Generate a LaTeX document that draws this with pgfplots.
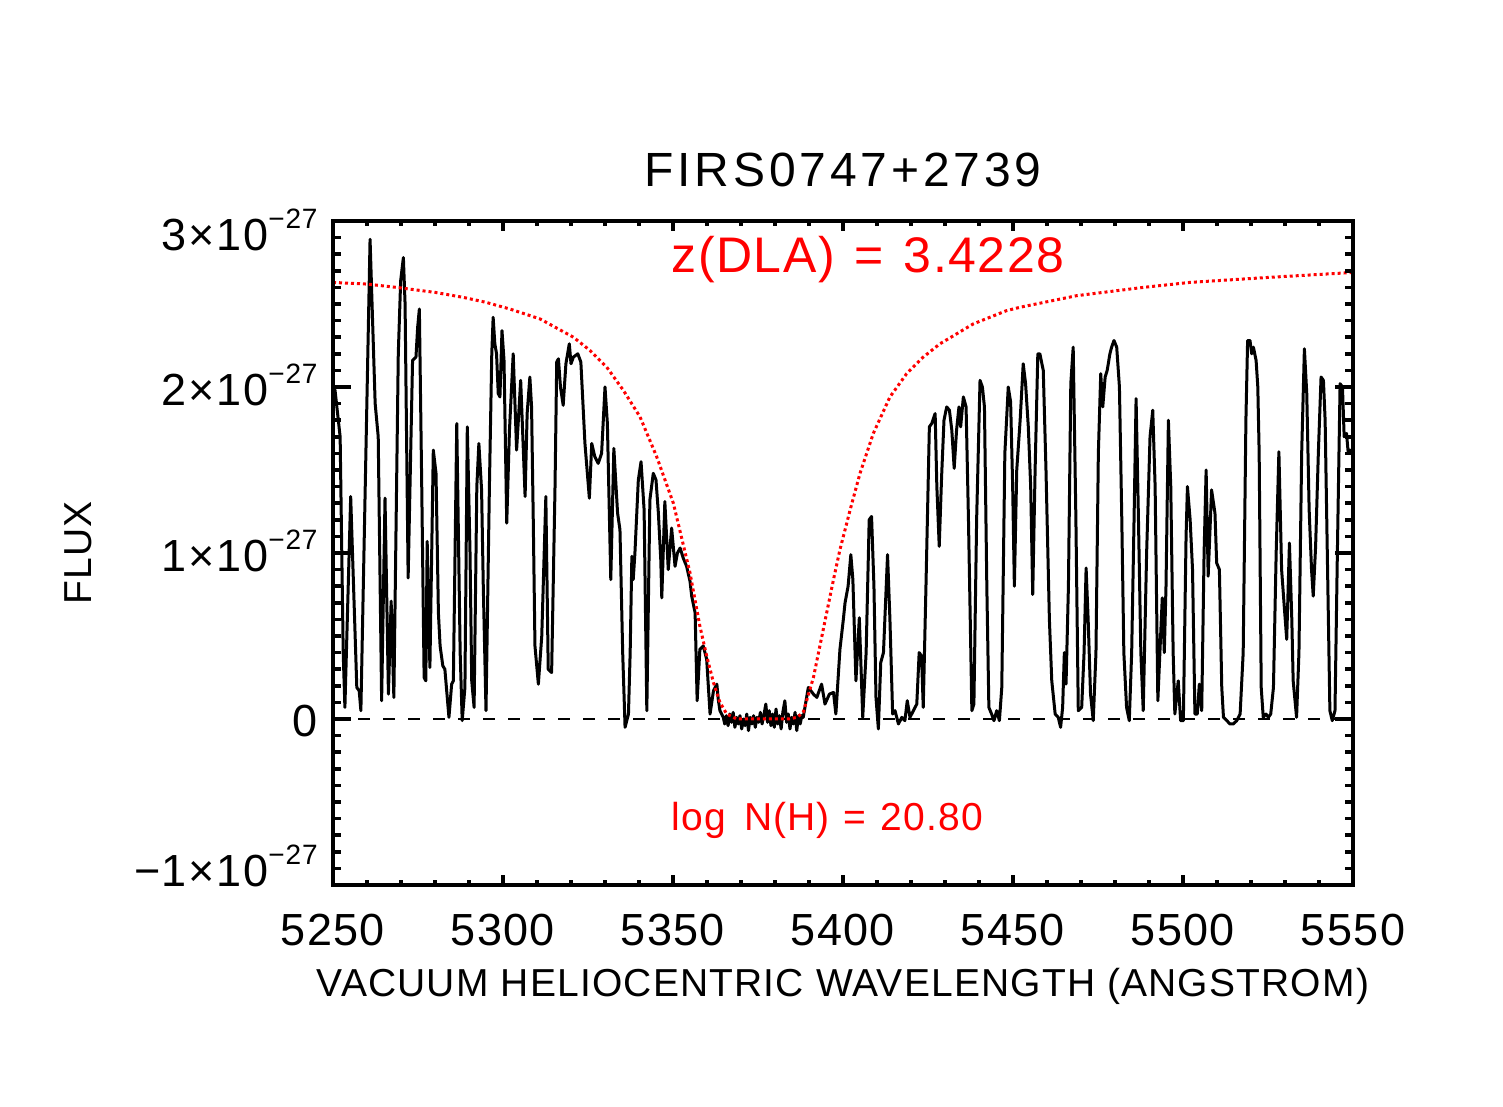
\documentclass[border=0pt]{standalone}
\usepackage{fontspec}
\setmainfont{Liberation Sans}
\newfontfamily\titlefam[LetterSpace=8]{Liberation Sans}
\newfontfamily\widefam[LetterSpace=3]{Liberation Sans}
\usepackage{pgfplots}
\pgfplotsset{compat=1.18}

% flux is plotted in units of 1e-27
\newcommand{\tickfont}{\fontsize{22.5bp}{26bp}\selectfont}
\newcommand{\sci}[1]{#1\hspace{1bp}×\hspace{1bp}10\raisebox{11bp}{\fontsize{14bp}{14bp}\selectfont −27}}

\pgfplotstableread{
lam flux
5250.0 2.00
5250.6 1.98
5252.1 1.70
5253.0 0.40
5253.5 0.07
5255.2 1.34
5257.0 0.19
5257.7 0.17
5258.2 0.05
5260.9 2.89
5261.7 2.36
5262.4 1.90
5263.3 1.70
5264.3 0.11
5265.3 1.33
5266.3 0.15
5267.1 0.71
5267.9 0.13
5269.2 2.20
5269.9 2.64
5270.7 2.78
5271.2 2.50
5272.1 0.85
5273.4 2.16
5274.4 2.18
5274.9 2.36
5275.4 2.47
5276.1 1.40
5276.8 0.25
5277.3 0.23
5277.7 1.07
5278.5 0.31
5279.5 1.62
5280.3 1.48
5281.0 0.64
5281.5 0.44
5282.3 0.32
5282.9 0.30
5284.1 0.01
5284.9 0.21
5285.4 0.23
5286.4 1.78
5287.4 0.40
5288.0 -0.01
5288.8 0.19
5289.5 1.76
5290.3 1.00
5290.8 0.23
5291.5 0.07
5292.3 1.40
5292.9 1.66
5293.7 1.38
5294.2 0.80
5295.0 0.05
5296.0 1.40
5296.7 2.20
5297.1 2.42
5297.6 2.26
5298.1 2.20
5298.6 1.96
5299.1 1.94
5299.7 2.34
5300.3 2.16
5301.1 1.18
5301.9 1.74
5303.0 2.20
5304.0 1.62
5305.2 2.04
5306.5 1.34
5307.1 1.84
5307.9 2.06
5308.4 1.88
5308.9 1.20
5309.4 0.44
5310.4 0.21
5311.4 0.50
5312.6 1.34
5313.3 0.30
5314.3 0.28
5315.3 1.40
5315.8 2.15
5316.3 2.17
5316.9 2.00
5317.7 1.89
5318.5 2.14
5319.5 2.26
5320.0 2.14
5320.7 2.18
5322.0 2.20
5322.9 2.15
5324.1 1.66
5325.4 1.33
5326.1 1.66
5327.0 1.58
5328.0 1.54
5329.0 1.60
5330.0 2.00
5330.7 1.78
5331.7 0.84
5332.6 1.63
5333.7 1.24
5334.4 1.14
5335.2 0.40
5335.9 -0.05
5336.9 0.03
5337.4 0.40
5337.9 0.98
5338.3 0.84
5338.8 1.00
5339.8 1.44
5340.6 1.55
5341.5 1.26
5342.3 0.05
5343.2 1.32
5344.2 1.48
5345.0 1.44
5345.7 1.24
5346.4 0.96
5346.7 0.73
5347.6 1.31
5348.6 0.90
5349.6 1.15
5350.6 0.92
5351.3 1.00
5352.1 1.03
5353.0 0.97
5354.0 0.92
5355.0 0.83
5355.5 0.74
5356.5 0.64
5357.1 0.11
5357.9 0.42
5358.9 0.44
5359.9 0.36
5360.9 0.03
5361.9 0.17
5362.9 0.21
5363.3 0.12
5363.8 0.05
5364.8 0.01
5365.2 -0.03
5365.7 0.02
5366.2 -0.04
5366.7 0.03
5367.2 -0.02
5367.7 0.04
5368.2 -0.05
5368.7 0.01
5369.2 -0.03
5369.7 0.02
5370.2 -0.06
5370.7 0.00
5371.2 -0.04
5371.7 0.03
5372.2 -0.07
5372.7 0.01
5373.2 -0.03
5373.7 0.02
5374.2 -0.05
5374.7 0.01
5375.2 -0.02
5375.7 0.04
5376.2 -0.03
5376.7 0.02
5377.3 0.09
5377.8 -0.02
5378.3 0.05
5378.8 -0.04
5379.3 0.03
5379.8 -0.05
5380.3 0.06
5380.8 -0.03
5381.3 0.02
5381.8 -0.06
5382.3 0.04
5382.9 0.11
5383.4 -0.02
5383.9 0.03
5384.4 -0.06
5384.9 0.01
5385.4 -0.03
5385.9 0.04
5386.4 -0.07
5386.9 0.02
5387.4 -0.03
5387.9 0.02
5388.3 0.01
5389.8 0.19
5391.3 0.15
5392.3 0.13
5393.7 0.21
5394.7 0.09
5396.0 0.15
5397.2 0.16
5397.9 0.03
5399.1 0.42
5400.1 0.60
5400.6 0.70
5401.5 0.80
5402.3 0.99
5402.9 0.84
5403.8 0.23
5404.8 0.61
5405.8 0.01
5406.8 0.40
5407.7 1.20
5408.4 1.22
5409.1 0.80
5409.7 0.13
5410.4 -0.06
5411.1 0.34
5411.9 0.40
5413.1 0.99
5413.8 0.60
5414.6 0.03
5415.3 0.05
5416.3 -0.03
5417.3 0.01
5418.2 -0.01
5418.9 0.11
5419.7 0.01
5420.7 0.05
5421.7 0.09
5422.4 0.40
5423.1 0.38
5423.6 0.07
5424.4 0.80
5425.4 1.76
5426.1 1.78
5427.1 1.84
5427.6 1.40
5428.3 1.04
5429.0 1.46
5429.7 1.80
5430.5 1.88
5431.3 1.86
5432.0 1.74
5432.7 1.51
5433.4 1.74
5434.1 1.88
5434.6 1.76
5435.4 1.94
5436.2 1.88
5436.9 1.20
5437.9 0.05
5438.5 0.09
5439.3 1.20
5440.3 2.04
5441.0 2.00
5441.6 1.88
5442.3 0.80
5442.9 0.07
5443.7 0.03
5444.4 -0.01
5445.2 0.05
5446.0 -0.01
5446.7 0.19
5447.6 1.60
5448.6 2.00
5449.3 1.91
5449.9 1.40
5450.4 0.80
5451.1 1.50
5452.1 1.80
5453.0 2.14
5453.7 2.02
5454.5 1.76
5455.2 1.40
5455.8 0.75
5456.5 1.50
5457.3 2.20
5457.9 2.20
5458.9 2.10
5459.7 1.50
5460.7 0.60
5461.4 0.23
5462.4 0.03
5463.3 0.01
5464.0 -0.05
5464.6 0.07
5465.1 0.40
5465.6 0.21
5466.3 0.80
5467.0 2.02
5467.7 2.24
5468.5 1.20
5469.2 0.05
5470.2 0.07
5470.9 0.40
5471.5 0.91
5472.1 0.60
5472.8 0.15
5473.6 -0.01
5474.4 0.40
5475.1 1.60
5475.8 2.08
5476.4 1.88
5477.1 2.06
5477.7 2.10
5478.5 2.20
5479.0 2.24
5479.7 2.28
5480.5 2.24
5481.3 2.00
5482.0 1.20
5482.6 0.40
5483.4 0.07
5484.2 -0.01
5484.9 0.40
5485.6 1.20
5486.2 1.93
5486.9 1.20
5487.6 0.40
5488.3 0.05
5489.3 1.00
5490.3 1.70
5491.1 1.86
5491.8 1.40
5492.6 0.11
5493.2 0.40
5493.9 0.73
5494.5 0.40
5495.0 0.80
5495.7 1.80
5496.4 1.40
5497.1 0.40
5497.6 0.03
5498.6 0.23
5499.3 -0.01
5500.1 -0.01
5500.9 1.10
5501.3 1.40
5502.1 1.20
5502.8 0.90
5503.5 0.03
5504.2 0.03
5504.8 0.21
5505.5 0.05
5506.2 1.00
5506.8 1.50
5507.4 0.86
5508.4 1.38
5509.4 1.24
5509.9 0.94
5510.7 0.90
5511.4 0.19
5511.9 0.01
5512.9 -0.01
5513.8 -0.03
5514.8 -0.03
5515.8 -0.01
5516.8 0.03
5517.7 0.40
5518.5 1.80
5519.0 2.28
5519.7 2.28
5520.2 2.20
5520.7 2.24
5521.5 2.16
5522.0 2.00
5522.4 1.60
5523.0 0.19
5523.6 0.01
5524.4 0.03
5525.1 0.01
5525.8 0.03
5526.6 0.19
5527.4 1.00
5528.2 1.61
5529.0 0.90
5529.7 0.70
5530.5 0.48
5531.3 1.06
5532.0 0.60
5532.4 0.23
5533.4 0.01
5534.1 0.40
5534.9 1.60
5535.7 2.23
5536.4 1.96
5537.1 1.26
5537.8 0.90
5538.3 0.74
5539.0 1.04
5539.8 1.60
5540.6 2.06
5541.3 2.04
5541.8 1.80
5542.6 0.80
5543.2 0.05
5543.9 -0.01
5544.7 0.05
5545.4 1.00
5546.2 2.02
5546.9 2.00
5547.4 1.70
5548.1 1.72
5548.6 1.60
5549.1 1.62
5550.0 1.60
}\spectrum

% DLA model profile, log N(HI) = 20.80
\pgfplotstableread{
lam flux
5250.0 2.63
5260.0 2.62
5268.7 2.60
5280.0 2.57
5288.3 2.54
5295.0 2.51
5302.0 2.47
5310.9 2.41
5320.7 2.30
5325.6 2.22
5330.5 2.12
5335.4 1.98
5340.3 1.82
5345.2 1.58
5350.1 1.30
5355.0 0.88
5357.9 0.56
5359.9 0.38
5361.9 0.22
5363.8 0.10
5365.8 0.03
5368.7 0.00
5376.0 0.00
5384.0 0.00
5386.5 0.01
5388.3 0.04
5389.3 0.11
5391.3 0.25
5393.2 0.44
5395.2 0.64
5397.2 0.84
5399.1 1.02
5402.1 1.26
5405.0 1.48
5408.9 1.72
5413.8 1.94
5418.7 2.08
5423.6 2.18
5428.5 2.26
5433.4 2.32
5438.3 2.38
5443.2 2.42
5448.1 2.46
5452.0 2.48
5468.7 2.55
5488.3 2.60
5502.0 2.63
5525.0 2.66
5550.0 2.69
}\model

\pgfplotsset{
  frame/.style={
    scale only axis,
    width=510bp, height=332bp,
    at={(166.5bp,111bp)}, anchor=south west,
    xmin=5250, xmax=5550, ymin=-1, ymax=3,
    tick align=inside,
    axis line style={line width=2bp},
    tick style={line width=1.8bp, black},
  }
}

\begin{document}
\begin{tikzpicture}
\useasboundingbox (0,0) rectangle (751.5bp,553.5bp);

% x ticks, labels and data
\begin{axis}[
  frame,
  xtick={5250,5300,5350,5400,5450,5500,5550},
  xticklabels={5250,5300,5350,5400,5450,5500,5550},
  minor x tick num=4,
  ytick=\empty,
  major tick length=5bp,
  minor tick length=2.5bp,
  xticklabel style={font=\widefam\tickfont, anchor=base, inner sep=0pt, yshift=-30.5bp},
  title={FIRS0747+2739},
  title style={at={(axis description cs:0.5,1)}, anchor=base, inner sep=0pt,
    yshift=11.5bp, font=\titlefam\fontsize{24bp}{28bp}\selectfont},
  xlabel={VACUUM HELIOCENTRIC WAVELENGTH (ANGSTROM)},
  xlabel style={at={(axis description cs:0.5,0)}, anchor=base, inner sep=0pt,
    yshift=-55.5bp, font=\widefam\fontsize{19.5bp}{23bp}\selectfont},
  ylabel={FLUX},
  ylabel style={at={(axis description cs:-0.2363,0.5)}, anchor=base, inner sep=0pt,
    font=\widefam\fontsize{19.5bp}{23bp}\selectfont},
]
\addplot[black, line width=1bp, dash pattern=on 6bp off 6.5bp] coordinates {(5250,0) (5550,0)};
\addplot[black, line width=1.5bp, line join=round] table[x=lam, y=flux] {\spectrum};
\addplot[red, line width=1.5bp, dash pattern=on 1.5bp off 1.5bp] table[x=lam, y=flux] {\model};
\node[red, anchor=base west, inner sep=0pt, font=\widefam\fontsize{25bp}{30bp}\selectfont]
  at (axis cs:5349.5,2.69) {z(DLA)\hspace{10bp}=\hspace{10bp}3.4228};
\node[red, anchor=base west, inner sep=0pt, font=\widefam\fontsize{19.5bp}{23bp}\selectfont]
  at (axis cs:5349.5,-0.67) {log\hspace{3bp} N(H)\hspace{7bp}=\hspace{7bp}20.80};
\end{axis}

% y ticks and labels
\begin{axis}[
  frame,
  xtick=\empty,
  ytick={-1,0,1,2,3},
  yticklabels={\raisebox{8bp}{−\sci{1}}, 0, \sci{1}, \sci{2}, \raisebox{-5.5bp}{\sci{3}}},
  minor y tick num=9,
  major tick length=9bp,
  minor tick length=4bp,
  yticklabel style={font=\widefam\tickfont, anchor=base east, inner sep=0pt, xshift=-7.5bp, yshift=-9bp},
]
\end{axis}
\end{tikzpicture}
\end{document}
